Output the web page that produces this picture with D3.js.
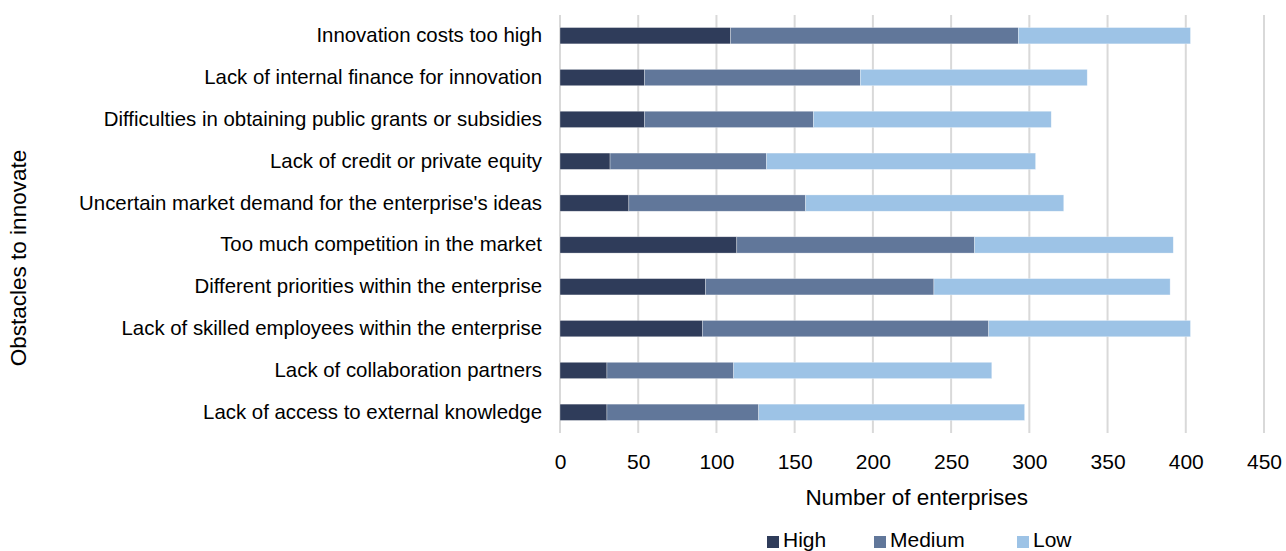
<!DOCTYPE html>
<html lang="en">
<head>
    <meta charset="UTF-8">
    <title>Obstacles to innovate</title>
    <script src="https://d3js.org/d3.v7.min.js"></script>
    <style>
        body { margin: 0; background: #fff; }
        svg text { font-family: "Liberation Sans", Arial, sans-serif; fill: #000; }
        .grid line { stroke: #d9d9d9; stroke-width: 2px; }
    </style>
</head>
<body>
    <svg width="1286" height="551"></svg>
    <script>
        // categories, top to bottom
        const categories = [
            'Innovation costs too high',
            'Lack of internal finance for innovation',
            'Difficulties in obtaining public grants or subsidies',
            'Lack of credit or private equity',
            "Uncertain market demand for the enterprise's ideas",
            'Too much competition in the market',
            'Different priorities within the enterprise',
            'Lack of skilled employees within the enterprise',
            'Lack of collaboration partners',
            'Lack of access to external knowledge'
        ];
        const high   = [109, 54, 54, 32, 44, 113, 93, 91, 30, 30];
        const medium = [184, 138, 108, 100, 113, 152, 146, 183, 81, 97];
        const low    = [110, 145, 152, 172, 165, 127, 151, 129, 165, 170];
        const seriesNames = ['High', 'Medium', 'Low'];
        const seriesColors = ['#2f3c5a', '#61779a', '#9dc3e6'];
        const xTicks = [0, 50, 100, 150, 200, 250, 300, 350, 400, 450];

        const svg = d3.select('svg');
        const margin = { left: 560, right: 22, top: 15, bottom: 118 };
        const width = 1286, height = 551;

        const rows = categories.map((c, i) => ({ cat: c, High: high[i], Medium: medium[i], Low: low[i] }));
        const stacked = d3.stack().keys(seriesNames)(rows);

        const x = d3.scaleLinear().domain([0, 450]).range([margin.left, width - margin.right]);
        const y = d3.scaleBand().domain(categories)
            .range([margin.top, height - margin.bottom]).paddingInner(0.61).paddingOuter(0.3);
        const color = d3.scaleOrdinal().domain(seriesNames).range(seriesColors);

        // gridlines
        svg.append('g').attr('class', 'grid')
            .selectAll('line').data(xTicks).join('line')
            .attr('x1', d => x(d)).attr('x2', d => x(d))
            .attr('y1', margin.top).attr('y2', height - margin.bottom);

        // bars
        svg.append('g').selectAll('g').data(stacked).join('g')
            .attr('fill', d => color(d.key))
            .selectAll('rect').data(d => d).join('rect')
            .attr('x', d => x(d[0]))
            .attr('width', d => x(d[1]) - x(d[0]))
            .attr('y', d => y(d.data.cat))
            .attr('height', y.bandwidth())
            .attr('stroke', '#fff').attr('stroke-width', 0.6).attr('stroke-opacity', 0.5);

        // x axis
        const xAxis = svg.append('g')
            .attr('transform', `translate(0,${height - margin.bottom})`)
            .call(d3.axisBottom(x).tickValues(xTicks).tickSize(0).tickPadding(21));
        xAxis.select('.domain').remove();
        xAxis.selectAll('text').style('font-size', '21px')
            .style('font-family', '"Liberation Sans", Arial, sans-serif').attr('fill', '#000');

        // y axis
        const yAxis = svg.append('g')
            .attr('transform', `translate(${margin.left},0)`)
            .call(d3.axisLeft(y).tickSize(0).tickPadding(18));
        yAxis.select('.domain').remove();
        yAxis.selectAll('text').style('font-size', '20.4px')
            .style('font-family', '"Liberation Sans", Arial, sans-serif').attr('fill', '#000');

        // axis titles
        svg.append('text')
            .attr('x', x(228)).attr('y', 505)
            .attr('text-anchor', 'middle').style('font-size', '22.5px')
            .text('Number of enterprises');

        svg.append('text')
            .attr('transform', `translate(26,258) rotate(-90)`)
            .attr('text-anchor', 'middle').style('font-size', '22.5px')
            .text('Obstacles to innovate');

        // legend
        const legendX = [767, 874, 1017];
        const legend = svg.append('g').selectAll('g').data(seriesNames).join('g')
            .attr('transform', (d, i) => `translate(${legendX[i]},539)`);
        legend.append('rect').attr('x', 0).attr('y', -3).attr('width', 12).attr('height', 12)
            .attr('fill', d => color(d));
        legend.append('text').attr('x', 16).attr('y', 8).style('font-size', '21px')
            .text(d => d);
    </script>
</body>
</html>
